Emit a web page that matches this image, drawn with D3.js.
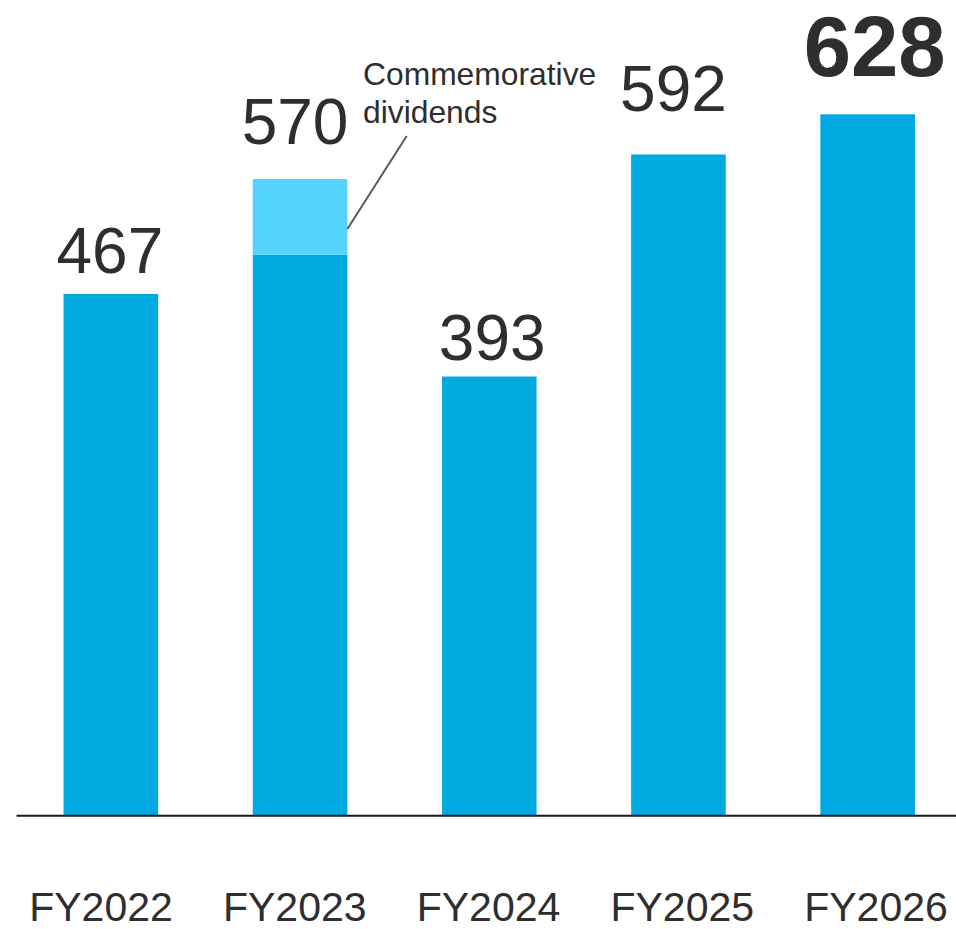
<!DOCTYPE html>
<html>
<head>
<meta charset="utf-8">
<script src="https://cdn.jsdelivr.net/npm/d3@7"></script>
<style>
  html, body { margin: 0; padding: 0; background: #fff; }
  svg { display: block; font-family: "Liberation Sans", Arial, sans-serif; }
</style>
</head>
<body>
<svg width="956" height="929"></svg>
<script>
// dividends per year
var years = ['FY2022', 'FY2023', 'FY2024', 'FY2025', 'FY2026'];
var ordinary = [467, 502, 393, 592, 628];
var commemorative = [0, 68, 0, 0, 0];
var totals = [467, 570, 393, 592, 628];
var noteLines = ['Commemorative', 'dividends'];

// label nudges, hand placed like the original slide
var labelGap = [21, 35, 17, 43, 38];
var labelShift = [-1, -5, 3, -5, 7];

var svg = d3.select('svg');
var textColor = '#2e2e2e';

var x = d3.scaleBand().domain(years).range([16.25, 962.25])
  .paddingInner(0.5).paddingOuter(0.25);
var y = d3.scaleLinear().domain([0, 628]).range([815, 114.3]);
var xLabel = d3.scalePoint().domain(years).range([101, 876]);

var rows = years.map(function(d, i) {
  return {year: d, ord: ordinary[i], extra: commemorative[i], total: totals[i], i: i};
});

// main bars
svg.selectAll('rect.ord').data(rows)
  .enter().append('rect')
  .attr('class', 'ord')
  .attr('x', function(d) { return x(d.year); })
  .attr('y', function(d) { return y(d.ord); })
  .attr('width', x.bandwidth())
  .attr('height', function(d) { return y(0) - y(d.ord); })
  .attr('fill', '#00a9e0');

// commemorative part on top
svg.selectAll('rect.extra').data(rows.filter(function(d) { return d.extra > 0; }))
  .enter().append('rect')
  .attr('class', 'extra')
  .attr('x', function(d) { return x(d.year); })
  .attr('y', function(d) { return y(d.ord + d.extra); })
  .attr('width', x.bandwidth())
  .attr('height', function(d) { return y(d.ord) - y(d.ord + d.extra); })
  .attr('fill', '#55d3ff');

// baseline
svg.append('line')
  .attr('x1', 16.5).attr('x2', 956)
  .attr('y1', y(0) + 0.7).attr('y2', y(0) + 0.7)
  .attr('stroke', '#1a1a1a').attr('stroke-width', 2);

// value labels, last one bold
svg.selectAll('text.val').data(rows)
  .enter().append('text')
  .attr('class', 'val')
  .attr('x', function(d) { return x(d.year) + x.bandwidth() / 2 + labelShift[d.i]; })
  .attr('y', function(d) { return y(d.total) - labelGap[d.i]; })
  .attr('text-anchor', 'middle')
  .attr('font-size', function(d) { return d.i === 4 ? 85 : 64; })
  .attr('font-weight', function(d) { return d.i === 4 ? 'bold' : 'normal'; })
  .attr('fill', textColor)
  .text(function(d) { return d.total; });

// category labels
svg.selectAll('text.cat').data(years)
  .enter().append('text')
  .attr('class', 'cat')
  .attr('x', function(d) { return xLabel(d); })
  .attr('y', 921)
  .attr('text-anchor', 'middle')
  .attr('font-size', 41)
  .attr('fill', textColor)
  .text(function(d) { return d; });

// commemorative note + leader line
var noteBar = rows[1];
svg.append('line')
  .attr('x1', x(noteBar.year) + x.bandwidth())
  .attr('y1', y(noteBar.ord + noteBar.extra / 2) + 12)
  .attr('x2', 406.7).attr('y2', 136)
  .attr('stroke', '#595959').attr('stroke-width', 2);

svg.selectAll('text.note').data(noteLines)
  .enter().append('text')
  .attr('class', 'note')
  .attr('x', 363)
  .attr('y', function(d, i) { return 85 + i * 38; })
  .attr('font-size', 31.8)
  .attr('fill', textColor)
  .text(function(d) { return d; });
</script>
</body>
</html>
